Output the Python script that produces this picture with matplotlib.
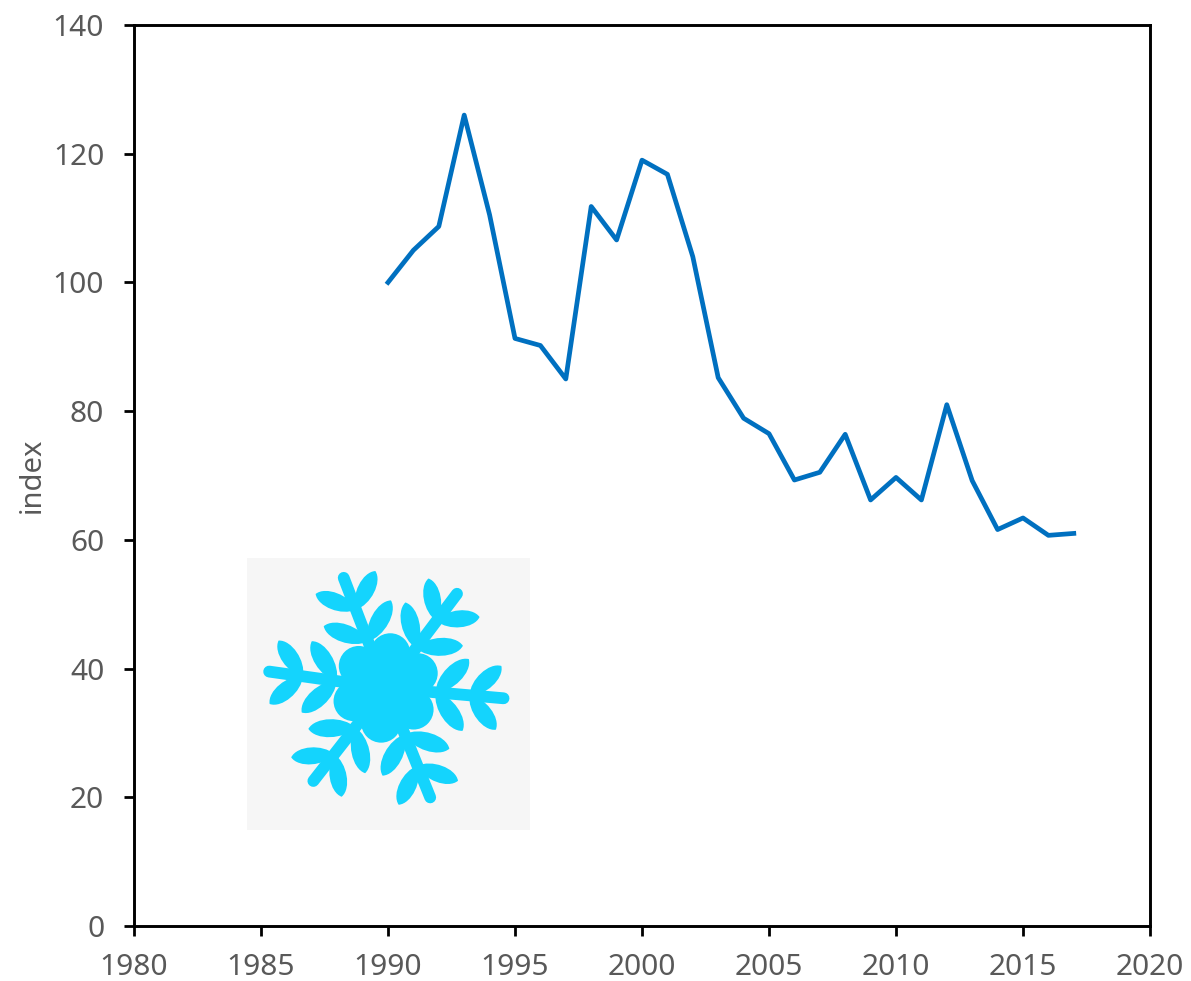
"""Index line chart with a snowflake picture in the lower left."""
import numpy as np
import matplotlib
matplotlib.use("Agg")
import matplotlib.pyplot as plt
from matplotlib.path import Path
from matplotlib.patches import PathPatch, Circle, Rectangle

plt.rcParams["font.family"] = ["Noto Sans", "DejaVu Sans"]

WIDTH, HEIGHT = 1191, 981
GREY = "#595959"
BLUE = "#0070c0"
ICE = "#14d4fd"

years = list(range(1990, 2018))
index_values = [100, 105, 108.7, 126, 110.5, 91.3, 90.2, 85, 111.8, 106.6,
                119, 116.8, 104, 85.2, 78.9, 76.5, 69.3, 70.5, 76.4, 66.2,
                69.7, 66.2, 81, 69.2, 61.6, 63.4, 60.7, 61]
x_ticks = list(range(1980, 2021, 5))
y_ticks = list(range(0, 141, 20))

fig = plt.figure(figsize=(WIDTH / 100, HEIGHT / 100), dpi=100)


def px_axes(left, top, right, bottom):
    return fig.add_axes([left / WIDTH, 1 - bottom / HEIGHT,
                         (right - left) / WIDTH, (bottom - top) / HEIGHT])


ax = px_axes(134, 25, 1150, 926)
ax.plot(years, index_values, color=BLUE, lw=3.4, solid_joinstyle="round")
ax.set_xlim(1980, 2020)
ax.set_ylim(0, 140)
ax.set_xticks(x_ticks)
ax.set_yticks(y_ticks)
ax.tick_params(length=7.5, width=2, color="black", labelcolor=GREY, labelsize=21.5)
ax.tick_params(axis="x", pad=12)
ax.tick_params(axis="y", pad=14)
for spine in ax.spines.values():
    spine.set_linewidth(2.1)
fig.text(32 / WIDTH, 1 - 475 / HEIGHT, "index", color=GREY, fontsize=21,
         rotation=90, ha="center", va="center")

# snowflake picture, drawn in reference pixel coordinates
pic = px_axes(247, 558, 530, 830)
pic.set_xlim(247, 530)
pic.set_ylim(830, 558)
pic.axis("off")
pic.add_patch(Rectangle((247, 558), 283, 272, color="#f6f6f6", lw=0))

CENTER = np.array([386.0, 688.0])


def to_px(points, angle):
    # points given as (along arm, sideways), angle in degrees, screen y goes down
    a = np.radians(angle)
    along = np.array([np.cos(a), -np.sin(a)])
    side = np.array([np.sin(a), np.cos(a)])
    return [CENTER + p * along + q * side for p, q in points]


def leaf(base_r, tip_r, tip_side, half_width, angle):
    base = np.array([base_r, 0.0])
    tip = np.array([tip_r, tip_side])
    d = tip - base
    n = np.array([-d[1], d[0]]) / np.hypot(*d)
    w = half_width * 1.33
    pts = [base,
           base + 0.25 * d + w * n,
           base + 0.85 * d + w * n,
           tip,
           base + 0.85 * d - w * n,
           base + 0.25 * d - w * n,
           base]
    codes = [Path.MOVETO] + [Path.CURVE4] * 6
    pic.add_patch(PathPatch(Path(to_px(pts, angle), codes), color=ICE, lw=0))


for angle in (-5, 53, 111, 172, 232, 292):
    start, tip = to_px([(20, 0), (118, 0)], angle)
    pic.plot([start[0], tip[0]], [start[1], tip[1]], color=ICE, lw=8.5,
             solid_capstyle="round")
    for side in (-1, 1):
        leaf(50, 80, 36 * side, 9, angle)
        leaf(84, 113, 32 * side, 8.5, angle)

    # petal of the central blob, between two arms
    petal = to_px([(22, 0), (35, 0)], angle + 30)
    pic.add_patch(Circle(petal[1], 20, color=ICE, lw=0))

pic.add_patch(Circle(CENTER, 42, color=ICE, lw=0))

fig.savefig("out.png", dpi=100, facecolor="white")
